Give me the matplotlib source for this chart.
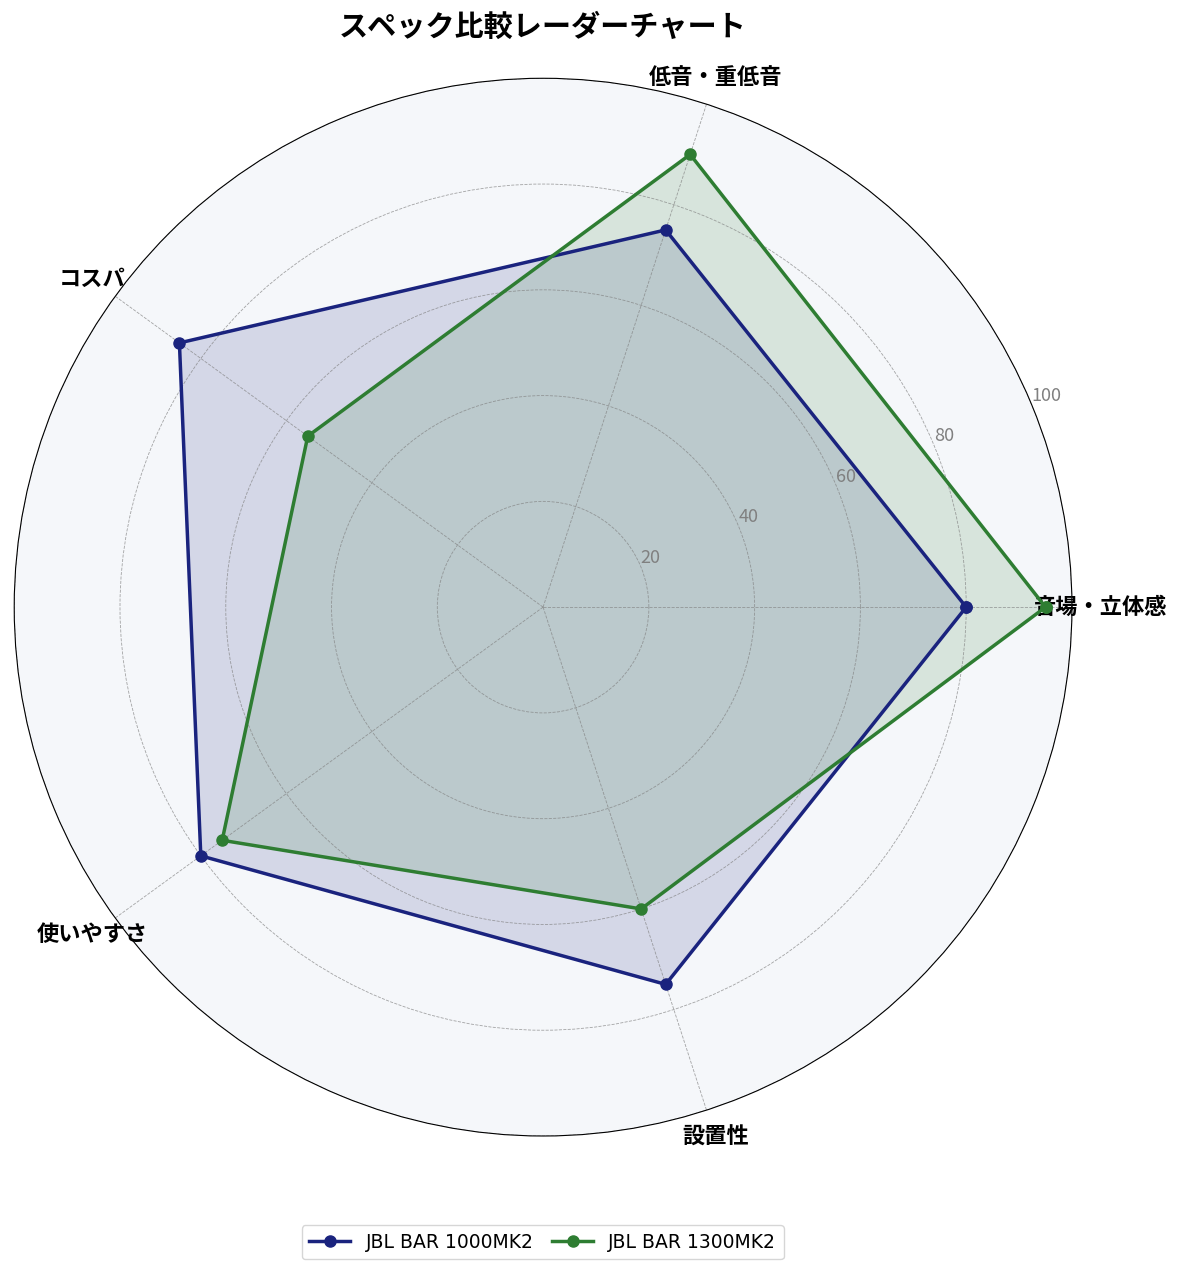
import matplotlib
matplotlib.use("Agg")
import matplotlib.pyplot as plt
import numpy as np

plt.rcParams['font.family'] = ['Noto Sans CJK JP', 'DejaVu Sans']

categories = ['音場・立体感', '低音・重低音', 'コスパ', '使いやすさ', '設置性']
bar1000 = [80, 75, 85, 80, 75]
bar1300 = [95, 90, 55, 75, 60]
names = ['JBL BAR 1000MK2', 'JBL BAR 1300MK2']
colors = ['#1a237e', '#2e7d32']
rticks = [20, 40, 60, 80, 100]

n = len(categories)
angles = np.linspace(0, 2 * np.pi, n, endpoint=False).tolist()
angles += angles[:1]

fig = plt.figure(figsize=(11.85, 12.79), dpi=100)
ax = fig.add_axes([0.0118, 0.1118, 0.893, 0.827], polar=True)
ax.set_facecolor('#f5f7fa')

for vals, name, c in zip([bar1000, bar1300], names, colors):
    v = vals + vals[:1]
    ax.plot(angles, v, '-o', color=c, linewidth=2.5, markersize=8, label=name)
    ax.fill(angles, v, color=c, alpha=0.15)

ax.set_ylim(0, 100)
ax.set_yticks(rticks)
ax.set_yticklabels([str(t) for t in rticks], color='gray', fontsize=13)
ax.set_rlabel_position(22.5)
ax.set_xticks(angles[:-1])
ax.set_xticklabels(categories, fontsize=16, fontweight='bold')
ax.tick_params(axis='x', pad=10)
ax.grid(color='gray', linestyle='--', linewidth=0.6, alpha=0.7)
ax.spines['polar'].set_color('black')

fig.text(0.458, 0.979, 'スペック比較レーダーチャート', fontsize=21, fontweight='bold',
         ha='center', va='center')
fig.legend(loc='lower center', ncol=2, prop={'family': 'DejaVu Sans', 'size': 13.5},
           bbox_to_anchor=(0.458, 0.008), handlelength=2.2, columnspacing=1.0)

fig.savefig('out.png', dpi=100)
